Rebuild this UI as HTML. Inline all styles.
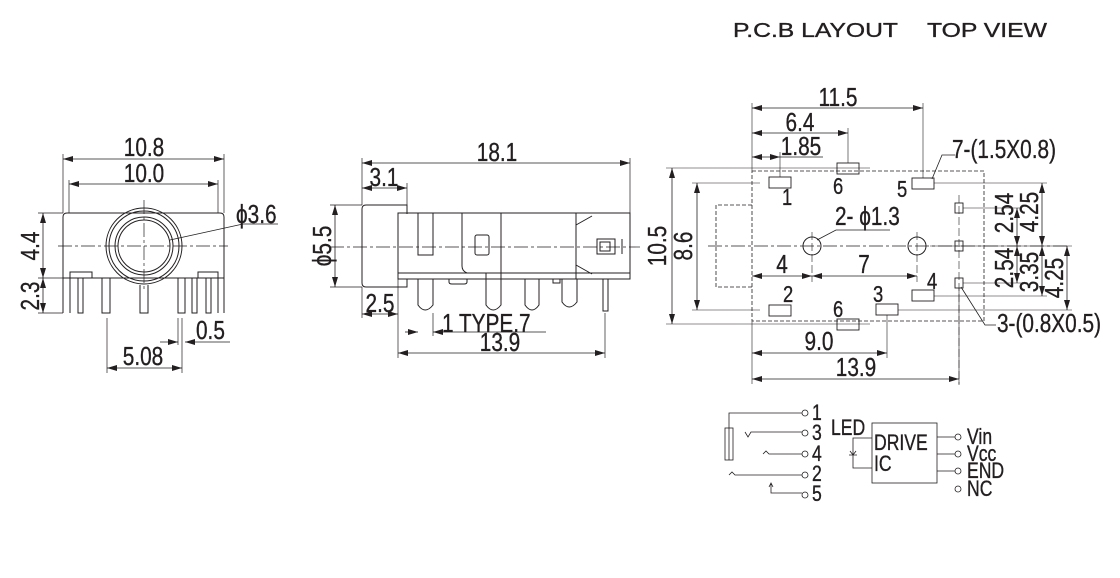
<!DOCTYPE html>
<html><head><meta charset="utf-8"><style>
html,body{margin:0;padding:0;background:#fff;}
svg{display:block;}
text{font-family:"Liberation Sans",sans-serif;fill:#231f20;}
.t text{stroke:#231f20;stroke-width:0.35;}
</style></head><body>
<svg width="1120" height="578" viewBox="0 0 1120 578" xmlns="http://www.w3.org/2000/svg">
<defs>
<marker id="a" viewBox="0 0 10 6" refX="10" refY="3" markerWidth="10" markerHeight="6" orient="auto-start-reverse" markerUnits="userSpaceOnUse"><path d="M0,0L10,3L0,6z" fill="#231f20"/></marker>
</defs>
<g stroke="#231f20" stroke-width="1" fill="none">
<path d="M63,313V217q0,-4 4,-4H220q4,0 4,4V313"/>
<line x1="63" y1="278" x2="224" y2="278"/>
<path d="M70,278V272H92V278M198,278V272H218V278"/>
<path d="M70,278V313M78,278V313H83V278M102,278V313H110V278M140,285V313H148V285M178,278V313H185V278M192,278V313H197V278M206,278V313H211V278M218,278V313"/>
<circle cx="144" cy="246" r="38"/><circle cx="144" cy="246" r="35"/>
<circle cx="144" cy="246" r="29"/><circle cx="144" cy="246" r="26"/>
<path d="M58,246H228M144,200V292" stroke-dasharray="14,3,3,3" stroke-width="0.7"/>
<path d="M170,240L243,224H278" stroke-width="0.8"/>
<path d="M63,213V154M224,213V154M69,213V180M218,213V180" stroke-width="0.7"/>
<line x1="63" y1="159" x2="224" y2="159" marker-start="url(#a)" marker-end="url(#a)" stroke-width="0.8"/>
<line x1="69" y1="184" x2="218" y2="184" marker-start="url(#a)" marker-end="url(#a)" stroke-width="0.8"/>
<path d="M38,213H63M38,278H63M38,313H63" stroke-width="0.7"/>
<line x1="43" y1="213" x2="43" y2="278" marker-start="url(#a)" marker-end="url(#a)" stroke-width="0.8"/>
<line x1="43" y1="278" x2="43" y2="313" marker-start="url(#a)" marker-end="url(#a)" stroke-width="0.8"/>
<path d="M107,318V373M182,318V373M178,318V345" stroke-width="0.7"/>
<line x1="107" y1="368" x2="182" y2="368" marker-start="url(#a)" marker-end="url(#a)" stroke-width="0.8"/>
<line x1="160" y1="342" x2="178" y2="342" marker-end="url(#a)" stroke-width="0.8"/>
<line x1="230" y1="342" x2="185" y2="342" marker-end="url(#a)" stroke-width="0.8"/>
<path d="M398,205H366q-4,0 -4,4V283q0,4 4,4H398"/>
<path d="M398,205H407V214M398,287H407V279"/>
<rect x="398" y="213" width="232" height="66"/>
<line x1="398" y1="273" x2="630" y2="273"/>
<path d="M462,213V266q0,5 5,7M501,213V279M576,213V279"/>
<path d="M418,213V255H433V213"/>
<rect x="475" y="235" width="14" height="20" rx="2"/>
<path d="M576,225L592,216M576,265L592,274"/>
<rect x="597" y="239" width="18" height="15"/><rect x="600" y="242" width="10" height="9"/>
<path d="M622,239V254"/>
<path d="M418,279V305q7,10 15,0V279M486,273V305q7,10 15,0V279M525,279V305q7,10 14,0V279M562,279V302q7,10 15,0V279M603,279V311H608V279"/>
<path d="M449,279V282q0,2 3,2H464q3,0 3,-2V279M553,279V283H560V279"/>
<path d="M330,247H640" stroke-dasharray="14,3,3,3" stroke-width="0.7"/>
<path d="M362,205V158M630,213V158M407,205V183" stroke-width="0.7"/>
<line x1="362" y1="163" x2="630" y2="163" marker-start="url(#a)" marker-end="url(#a)" stroke-width="0.8"/>
<line x1="362" y1="188" x2="407" y2="188" marker-start="url(#a)" marker-end="url(#a)" stroke-width="0.8"/>
<path d="M362,287V318M398,279V358M605,313V358M433,313V336" stroke-width="0.7"/>
<line x1="362" y1="314" x2="398" y2="314" marker-start="url(#a)" marker-end="url(#a)" stroke-width="0.8"/>
<line x1="398" y1="353" x2="605" y2="353" marker-start="url(#a)" marker-end="url(#a)" stroke-width="0.8"/>
<line x1="405" y1="332" x2="418" y2="332" marker-end="url(#a)" stroke-width="0.8"/>
<line x1="546" y1="332" x2="433" y2="332" marker-end="url(#a)" stroke-width="0.8"/>
<path d="M330,205H362M330,287H362" stroke-width="0.7"/>
<line x1="335" y1="205" x2="335" y2="287" marker-start="url(#a)" marker-end="url(#a)" stroke-width="0.8"/>
<rect x="752" y="171" width="232" height="150" stroke-dasharray="4,2" stroke-width="0.8"/>
<path d="M752,205H716V287H752" stroke-dasharray="4,2" stroke-width="0.8"/>
<path d="M708,246H1070" stroke-dasharray="14,3,3,3" stroke-width="0.7"/>
<circle cx="812" cy="246" r="9"/><circle cx="917" cy="246" r="9"/>
<path d="M812,232V282M917,232V282" stroke-dasharray="8,3" stroke-width="0.6"/>
<g stroke-width="0.9">
<rect x="769" y="177" width="22" height="11"/>
<rect x="837" y="163" width="22" height="11"/>
<rect x="912" y="178" width="22" height="11"/>
<rect x="769" y="305" width="22" height="11"/>
<rect x="837" y="319" width="22" height="11"/>
<rect x="876" y="304" width="22" height="11"/>
<rect x="912" y="290" width="22" height="11"/>
<rect x="955" y="203" width="8" height="10"/>
<rect x="955" y="241" width="8" height="10"/>
<rect x="955" y="278" width="8" height="10"/>
</g>
<path d="M959,195V385" stroke-dasharray="8,3" stroke-width="0.6"/>
<g stroke-width="0.6">
<path d="M752,171V103M923,178V103M848,163V128M780,177V152"/>
<path d="M666,168H870M666,324H870M692,183H760M692,310H760M934,183H1047M963,208H1022M963,283H1022M934,296H1047M898,310H1072M930,246H1072"/>
<path d="M752,321V384M887,315V358M959,288V384"/>
</g>
<line x1="752" y1="108" x2="923" y2="108" marker-start="url(#a)" marker-end="url(#a)" stroke-width="0.8"/>
<line x1="752" y1="133" x2="848" y2="133" marker-start="url(#a)" marker-end="url(#a)" stroke-width="0.8"/>
<line x1="752" y1="157" x2="780" y2="157" marker-start="url(#a)" marker-end="url(#a)" stroke-width="0.8"/>
<path d="M780,157H823" stroke-width="0.8"/>
<line x1="672" y1="168" x2="672" y2="324" marker-start="url(#a)" marker-end="url(#a)" stroke-width="0.8"/>
<line x1="697" y1="183" x2="697" y2="310" marker-start="url(#a)" marker-end="url(#a)" stroke-width="0.8"/>
<line x1="752" y1="276" x2="812" y2="276" marker-start="url(#a)" marker-end="url(#a)" stroke-width="0.8"/>
<line x1="812" y1="276" x2="917" y2="276" marker-start="url(#a)" marker-end="url(#a)" stroke-width="0.8"/>
<line x1="752" y1="353" x2="887" y2="353" marker-start="url(#a)" marker-end="url(#a)" stroke-width="0.8"/>
<line x1="752" y1="379" x2="959" y2="379" marker-start="url(#a)" marker-end="url(#a)" stroke-width="0.8"/>
<line x1="1017" y1="208" x2="1017" y2="246" marker-start="url(#a)" marker-end="url(#a)" stroke-width="0.8"/>
<line x1="1017" y1="246" x2="1017" y2="283" marker-start="url(#a)" marker-end="url(#a)" stroke-width="0.8"/>
<line x1="1042" y1="183" x2="1042" y2="246" marker-start="url(#a)" marker-end="url(#a)" stroke-width="0.8"/>
<line x1="1042" y1="246" x2="1042" y2="296" marker-start="url(#a)" marker-end="url(#a)" stroke-width="0.8"/>
<line x1="1067" y1="246" x2="1067" y2="310" marker-start="url(#a)" marker-end="url(#a)" stroke-width="0.8"/>
<path d="M817,240L836,230H890" stroke-width="0.8"/>
<path d="M932,179L942,155H955" stroke-width="0.8"/>
<path d="M961,287L985,325H996" stroke-width="0.8"/>
<g stroke-width="0.8">
<path d="M729,460V413H802"/>
<rect x="725" y="428" width="8" height="32"/>
<path d="M745,432l3,5l3,-5H802"/>
<path d="M763,454l3,-3l3,3H802"/>
<path d="M729,475l3,-3l3,3H802"/>
<path d="M771,484V493H802M769,487l2,-4l2,4"/>
<circle cx="805" cy="413" r="3"/><circle cx="805" cy="433" r="3"/><circle cx="805" cy="454" r="3"/><circle cx="805" cy="475" r="3"/><circle cx="805" cy="495" r="3"/>
<rect x="872" y="423" width="65" height="60"/>
<path d="M872,438H853V468H872M853,451V458M849,455H857M850,451l3,4l3,-4"/>
<path d="M937,437H955M937,454H955M937,471H955"/>
<circle cx="958" cy="437" r="3"/><circle cx="958" cy="454" r="3"/><circle cx="958" cy="471" r="3"/><circle cx="958" cy="489" r="3"/>
</g>
</g>
<g class="t">
<text x="733" y="37" font-size="20" textLength="165" lengthAdjust="spacingAndGlyphs">P.C.B LAYOUT</text>
<text x="927" y="37" font-size="20" textLength="120" lengthAdjust="spacingAndGlyphs">TOP VIEW</text>
<g font-size="26">
<text transform="translate(144,156) scale(0.8,1)" text-anchor="middle">10.8</text>
<text transform="translate(144,182) scale(0.8,1)" text-anchor="middle">10.0</text>
<text transform="translate(236,223) scale(0.8,1)">ϕ3.6</text>
<text transform="translate(39,246) rotate(-90) scale(0.8,1)" text-anchor="middle">4.4</text>
<text transform="translate(39,296) rotate(-90) scale(0.8,1)" text-anchor="middle">2.3</text>
<text transform="translate(196,339) scale(0.8,1)">0.5</text>
<text transform="translate(143,365) scale(0.8,1)" text-anchor="middle">5.08</text>
<text transform="translate(497,161) scale(0.8,1)" text-anchor="middle">18.1</text>
<text transform="translate(384,186) scale(0.8,1)" text-anchor="middle">3.1</text>
<text transform="translate(331,246) rotate(-90) scale(0.8,1)" text-anchor="middle">ϕ5.5</text>
<text transform="translate(380,312) scale(0.8,1)" text-anchor="middle">2.5</text>
<text transform="translate(442,332) scale(0.8,1)">1 TYPE.7</text>
<text transform="translate(500,351) scale(0.8,1)" text-anchor="middle">13.9</text>
<text transform="translate(838,106) scale(0.8,1)" text-anchor="middle">11.5</text>
<text transform="translate(800,131) scale(0.8,1)" text-anchor="middle">6.4</text>
<text transform="translate(801,155) scale(0.8,1)" text-anchor="middle">1.85</text>
<text transform="translate(952,158) scale(0.8,1)">7-(1.5X0.8)</text>
<text transform="translate(782,205) scale(0.8,1)" font-size="23">1</text>
<text transform="translate(833,194) scale(0.8,1)" font-size="23">6</text>
<text transform="translate(897,197) scale(0.8,1)" font-size="23">5</text>
<text transform="translate(835,225) scale(0.8,1)">2- ϕ1.3</text>
<text transform="translate(666,246) rotate(-90) scale(0.8,1)" text-anchor="middle">10.5</text>
<text transform="translate(692,246) rotate(-90) scale(0.8,1)" text-anchor="middle">8.6</text>
<text transform="translate(782,273) scale(0.8,1)" text-anchor="middle">4</text>
<text transform="translate(864,273) scale(0.8,1)" text-anchor="middle">7</text>
<text transform="translate(783,302) scale(0.8,1)" font-size="23">2</text>
<text transform="translate(833,317) scale(0.8,1)" font-size="23">6</text>
<text transform="translate(873,302) scale(0.8,1)" font-size="23">3</text>
<text transform="translate(927,289) scale(0.8,1)" font-size="23">4</text>
<text transform="translate(997,332) scale(0.8,1)">3-(0.8X0.5)</text>
<text transform="translate(819,350) scale(0.8,1)" text-anchor="middle">9.0</text>
<text transform="translate(856,376) scale(0.8,1)" text-anchor="middle">13.9</text>
<text transform="translate(1013,213) rotate(-90) scale(0.8,1)" text-anchor="middle">2.54</text>
<text transform="translate(1013,268) rotate(-90) scale(0.8,1)" text-anchor="middle">2.54</text>
<text transform="translate(1038,212) rotate(-90) scale(0.8,1)" text-anchor="middle">4.25</text>
<text transform="translate(1038,272) rotate(-90) scale(0.8,1)" text-anchor="middle">3.35</text>
<text transform="translate(1063,278) rotate(-90) scale(0.8,1)" text-anchor="middle">4.25</text>
</g>
<g font-size="22">
<text transform="translate(812,420) scale(0.8,1)">1</text>
<text transform="translate(812,440) scale(0.8,1)">3</text>
<text transform="translate(812,461) scale(0.8,1)">4</text>
<text transform="translate(812,481) scale(0.8,1)">2</text>
<text transform="translate(812,501) scale(0.8,1)">5</text>
<text transform="translate(831,435) scale(0.8,1)">LED</text>
<text transform="translate(874,450) scale(0.8,1)">DRIVE</text>
<text transform="translate(874,471) scale(0.8,1)">IC</text>
<text transform="translate(967,444) scale(0.8,1)">Vin</text>
<text transform="translate(967,461) scale(0.8,1)">Vcc</text>
<text transform="translate(967,478) scale(0.8,1)">END</text>
<text transform="translate(967,496) scale(0.8,1)">NC</text>
</g>
</g>
</svg>
</body></html>
